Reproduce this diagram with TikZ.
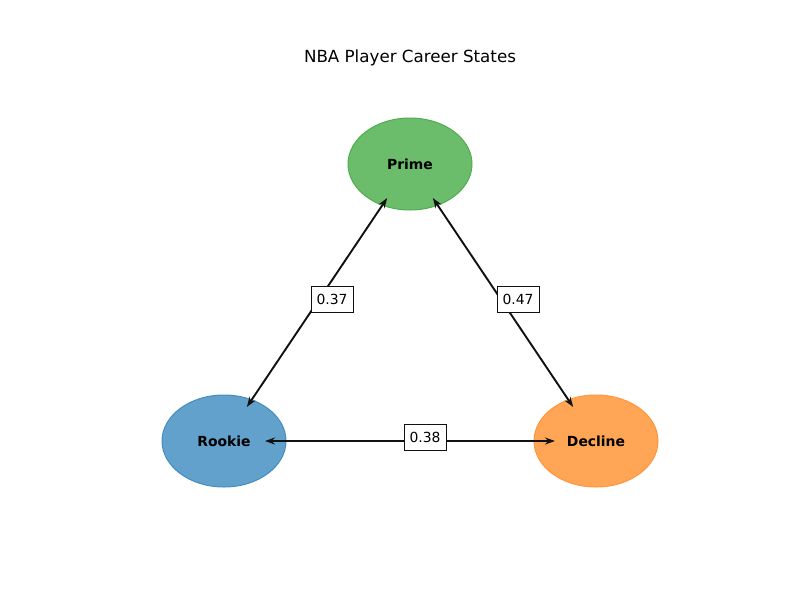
\documentclass[tikz,border=0pt]{standalone}
\usepackage{fontspec}
\setmainfont{DejaVu Sans}
\usetikzlibrary{shapes.geometric,arrows.meta}
\definecolor{rookiefill}{RGB}{98,161,204}
\definecolor{rookieedge}{RGB}{70,140,190}
\definecolor{primefill}{RGB}{107,189,107}
\definecolor{primeedge}{RGB}{80,172,80}
\definecolor{declinefill}{RGB}{255,165,86}
\definecolor{declineedge}{RGB}{255,150,60}
\definecolor{edgecol}{RGB}{17,17,17}
\tikzset{
  state/.style={ellipse, minimum width=124pt, minimum height=92pt, inner sep=0pt, line width=1pt, font=\fontsize{13.9}{16}\selectfont\bfseries},
  link/.style={edgecol, line width=1.9pt, {Stealth[length=10pt,width=7pt]}-{Stealth[length=10pt,width=7pt]}, shorten >=41pt, shorten <=41pt},
  prob/.style={draw=edgecol, fill=white, line width=0.9pt, minimum width=42pt, minimum height=26pt, inner sep=0pt, font=\fontsize{13.9}{16}\selectfont},
}
\begin{document}
\begin{tikzpicture}[x=1pt,y=-1pt]
\useasboundingbox (0,0) rectangle (800,600);
\node (title) at (410,58) {\fontsize{16.7}{20}\selectfont NBA Player Career States};
\node[state, fill=primefill, draw=primeedge] (prime) at (410,164) {Prime};
\node[state, fill=rookiefill, draw=rookieedge] (rookie) at (224,441) {Rookie};
\node[state, fill=declinefill, draw=declineedge] (decline) at (596,441) {Decline};
\draw[link] (rookie.center) -- (prime.center);
\draw[link] (prime.center) -- (decline.center);
\draw[link] (rookie.center) -- (decline.center);
\node[prob] (l1) at (332,299) {0.37};
\node[prob] (l2) at (518,299) {0.47};
\node[prob] (l3) at (425,437.5) {0.38};
\end{tikzpicture}
\end{document}
